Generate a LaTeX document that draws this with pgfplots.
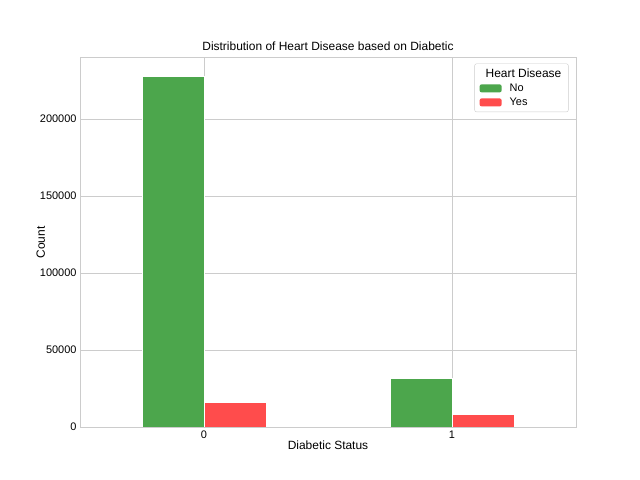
\documentclass[border=0pt]{standalone}
\usepackage{pgfplots}
\pgfplotsset{compat=1.18}
\usepackage{fontspec}
\setmainfont{Liberation Sans}
\definecolor{gc}{HTML}{4CA64C}
\definecolor{rc}{HTML}{FF4C4C}
\definecolor{gridc}{HTML}{CCCCCC}
\begin{document}
\begin{tikzpicture}[x=1bp,y=1bp]
\begin{axis}[
  scale only axis, width=496bp, height=369bp,
  xmin=-0.5, xmax=1.5, ymin=0, ymax=239600,
  xtick={0,1}, xticklabels={0,1},
  ytick={0,50000,100000,150000,200000},
  scaled y ticks=false,
  yticklabel style={/pgf/number format/fixed,/pgf/number format/1000 sep={}},
  /pgf/number format/assume math mode=true,
  ticklabel style={font=\fontsize{11}{13}\selectfont},
  major tick length=0pt,
  grid=major, grid style={gridc, line width=0.8pt},
  axis line style={gridc, line width=1pt},
  xlabel={Diabetic Status}, ylabel={Count},
  label style={font=\fontsize{12}{14}\selectfont},
  xlabel style={yshift=4bp}, ylabel style={yshift=-12bp},
  title={Distribution of Heart Disease based on Diabetic},
  title style={font=\fontsize{12}{14}\selectfont, yshift=-2bp},
  ybar=0pt, bar width=0.25,
  legend style={at={(0.985,0.985)}, anchor=north east, draw=gridc, rounded corners=2pt,
     font=\fontsize{11}{13}\selectfont, cells={anchor=west}, inner xsep=5bp, inner ysep=3bp,
     row sep=1bp},
  legend image code/.code={\draw[#1, draw=none] (0bp,-4bp) rectangle (22bp,4bp);},
]
\addlegendimage{empty legend}
\addlegendentry{\hspace{-18bp}\fontsize{12}{14}\selectfont Heart Disease}
\addplot[fill=gc, draw=white, line width=0.5pt] coordinates {(0,227900) (1,31800)};
\addlegendentry{\hspace{6bp}No}
\addplot[fill=rc, draw=white, line width=0.5pt] coordinates {(0,16200) (1,8400)};
\addlegendentry{\hspace{6bp}Yes}
\end{axis}
\path ([xshift=-80bp,yshift=-53bp]current axis.south west) rectangle ([xshift=64bp,yshift=58bp]current axis.north east);
\end{tikzpicture}
\end{document}
